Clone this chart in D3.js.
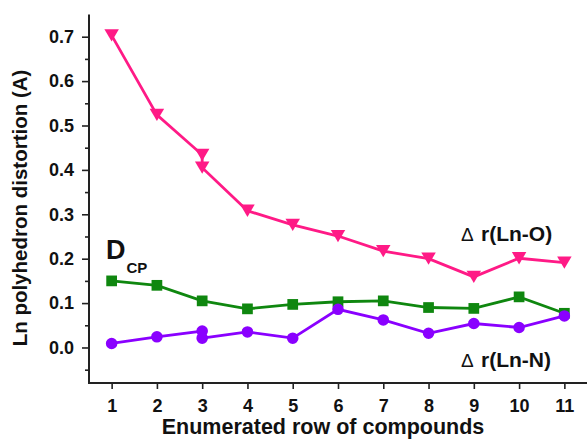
<!DOCTYPE html>
<html>
<head>
<meta charset="utf-8">
<script src="https://cdn.jsdelivr.net/npm/d3@7/dist/d3.min.js"></script>
<style>
  html, body { margin: 0; padding: 0; background: #fff; }
  svg { display: block; }
  text { font-family: "Liberation Sans", Arial, sans-serif; font-weight: bold; fill: #111; }
</style>
</head>
<body>
<svg id="chart" width="587" height="444"></svg>
<script>
// Compound index (row 3 holds two entries for the O and N distances)
const rowsON = [1, 2, 3, 3, 4, 5, 6, 7, 8, 9, 10, 11];
const rowsCP = [1, 2, 3, 4, 5, 6, 7, 8, 9, 10, 11];

// Δ r(Ln-O), Å
const deltaLnO = [0.703, 0.524, 0.434, 0.405, 0.308, 0.276, 0.251, 0.217, 0.200, 0.159, 0.201, 0.191];
// D_CP
const dCP = [0.150, 0.140, 0.105, 0.087, 0.097, 0.103, 0.105, 0.090, 0.088, 0.114, 0.077];
// Δ r(Ln-N), Å
const deltaLnN = [0.009, 0.024, 0.037, 0.021, 0.035, 0.021, 0.086, 0.062, 0.032, 0.054, 0.045, 0.071];

const xTicks = [1, 2, 3, 4, 5, 6, 7, 8, 9, 10, 11];
const yTicks = [0.0, 0.1, 0.2, 0.3, 0.4, 0.5, 0.6, 0.7];
const yMinorTicks = [-0.05, 0.05, 0.15, 0.25, 0.35, 0.45, 0.55, 0.65];

const svg = d3.select("#chart");
const x = d3.scaleLinear().domain([0.5, 11.5]).range([89, 587]);
const y = d3.scaleLinear().domain([-0.08, 0.75]).range([383, 14.5]);

const axisColor = "#222";

// Y axis: minor ticks, then labelled major ticks
const yMinor = svg.append("g").attr("transform", "translate(89,0)")
  .call(d3.axisLeft(y).tickValues(yMinorTicks).tickSize(4).tickFormat(""));
const yAxis = svg.append("g").attr("transform", "translate(89,0)")
  .call(d3.axisLeft(y).tickValues(yTicks).tickSize(7).tickPadding(8).tickFormat(d3.format(".1f")));
[yMinor, yAxis].forEach(g => {
  g.select(".domain").remove();
  g.selectAll(".tick line").attr("stroke", axisColor).attr("stroke-width", 1.6);
});
yAxis.attr("font-size", 18);
yAxis.selectAll(".tick text").style("font-size", "18px").attr("fill", "#111");
svg.append("line").attr("x1", 89).attr("x2", 89).attr("y1", y.range()[1]).attr("y2", y.range()[0])
  .attr("stroke", axisColor).attr("stroke-width", 2);

// X axis
const xAxis = svg.append("g").attr("transform", "translate(0,383)")
  .call(d3.axisBottom(x).tickValues(xTicks).tickSize(6).tickPadding(10).tickFormat(d3.format("d")));
xAxis.select(".domain").remove();
xAxis.attr("font-size", 18);
xAxis.selectAll(".tick line").attr("stroke", axisColor).attr("stroke-width", 1.6);
xAxis.selectAll(".tick text").style("font-size", "18px").attr("fill", "#111");
svg.append("line").attr("x1", 88).attr("x2", 587).attr("y1", 383).attr("y2", 383)
  .attr("stroke", axisColor).attr("stroke-width", 2);

// Axis titles
svg.append("text").attr("x", 323).attr("y", 434).attr("text-anchor", "middle")
  .style("font-size", "21.5px").text("Enumerated row of compounds");
svg.append("text").attr("transform", "translate(27,208) rotate(-90)").attr("text-anchor", "middle")
  .style("font-size", "20.5px").text("Ln polyhedron distortion (A)");

// Downward triangle centred on its bounding box
const triDown = {
  draw(ctx, size) {
    const w = Math.sqrt(size) * 1.08, h = w * 0.85;
    ctx.moveTo(-w / 2, -h / 2);
    ctx.lineTo(w / 2, -h / 2);
    ctx.lineTo(0, h / 2);
    ctx.closePath();
  }
};

const series = [
  { rows: rowsON, values: deltaLnO, color: "#ff1a86", symbol: triDown, size: 180 },
  { rows: rowsCP, values: dCP, color: "#0f870f", symbol: d3.symbolSquare, size: 115 },
  { rows: rowsON, values: deltaLnN, color: "#8a00ff", symbol: d3.symbolCircle, size: 105 }
];

const line = d3.line().x(d => x(d[0])).y(d => y(d[1]));

series.forEach(s => {
  const pts = s.rows.map((r, i) => [r, s.values[i]]);
  svg.append("path").datum(pts).attr("d", line)
    .attr("fill", "none").attr("stroke", s.color).attr("stroke-width", 2.8);
  svg.append("g").selectAll("path").data(pts).join("path")
    .attr("transform", d => `translate(${x(d[0])},${y(d[1])})`)
    .attr("d", d3.symbol(s.symbol, s.size))
    .attr("fill", s.color);
});

// Series labels
const dLabel = svg.append("text").attr("x", 106).attr("y", 258.5);
dLabel.append("tspan").style("font-size", "27px").text("D");
dLabel.append("tspan").attr("dy", 14.5).attr("dx", 1).style("font-size", "15px").text("CP");

function deltaLabel(yPos, txt) {
  const t = svg.append("text").attr("y", yPos).style("font-size", "21px");
  t.append("tspan").attr("x", 461).style("font-weight", "normal").style("font-size", "19px").text("Δ");
  t.append("tspan").attr("x", 481).text(txt);
}
deltaLabel(240.5, "r(Ln-O)");
deltaLabel(367, "r(Ln-N)");
</script>
</body>
</html>
